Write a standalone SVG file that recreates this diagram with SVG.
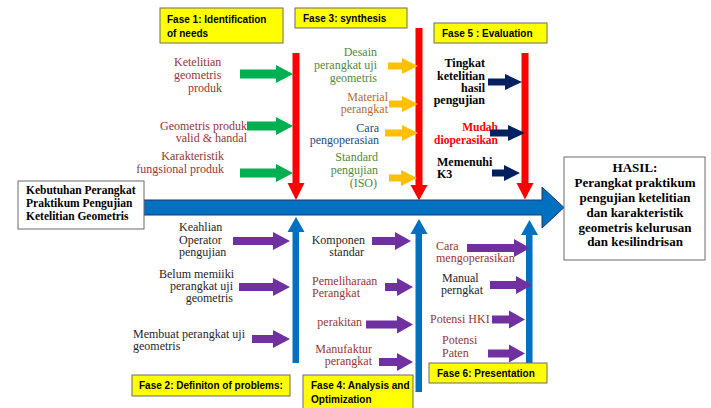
<svg xmlns="http://www.w3.org/2000/svg" width="711" height="408" viewBox="0 0 711 408">
<style>
.fase{fill:#FFFF00;stroke:#6b6b6b;stroke-width:1}
.ft{font-family:"Liberation Sans",Arial,sans-serif;font-weight:bold;font-size:10px;fill:#000}
.box{fill:#fff;stroke:#6b6b6b;stroke-width:1}
.sb{font-family:"Liberation Serif","Times New Roman",serif;font-weight:bold;fill:#000}
.s{font-family:"Liberation Serif","Times New Roman",serif;font-size:12px}
.br{fill:#953735}
.gr{fill:#4F8B3B}
.or{fill:#B56C35}
.bl{fill:#244A84}
.dk{fill:#262626}
.green{fill:#00B050}
.yel{fill:#FFC000}
.navy{fill:#002060}
.pur{fill:#7030A0}
.red{fill:#FF0000}
.blue{fill:#0070C0}
.spine{fill:#0070C0;stroke:#1F3864;stroke-width:1}
</style>

<g id="connectors">
  <polygon id="spine" class="spine" points="120,200 542,200 542,187 564,207.5 542,228 542,215 120,215"/>
  <!-- red down bones -->
  <polygon class="red" points="292.5,53 299.5,53 299.5,183 304.5,183 296,200 287.5,183 292.5,183"/>
  <polygon class="red" points="415.5,28 422.5,28 422.5,185 427.5,185 419,200.5 410.5,185 415.5,185"/>
  <polygon class="red" points="521.5,53 528.5,53 528.5,183 533.5,183 525,199.5 516.5,183 521.5,183"/>
  <!-- blue up bones -->
  <polygon class="blue" points="292.5,363 299,363 299,232 304.5,232 296,217 287.5,232 292.5,232"/>
  <polygon class="blue" points="415.5,392 422,392 422,234 427.5,234 419,219 410.5,234 415.5,234"/>
  <polygon class="blue" points="526,363 532.5,363 532.5,235 538,235 529.5,220 521,235 526,235"/>
  <!-- green arrows -->
  <polygon class="green" points="240,69.5 276,69.5 276,65 293,74 276,83 276,78.5 240,78.5"/>
  <polygon class="green" points="247,121.5 276,121.5 276,117 293,126 276,135 276,130.5 247,130.5"/>
  <polygon class="green" points="240,168.5 276,168.5 276,164 293,173 276,182 276,177.5 240,177.5"/>
  <!-- yellow arrows -->
  <polygon class="yel" points="388,62.5 402,62.5 402,58 418,66 402,74 402,69.5 388,69.5"/>
  <polygon class="yel" points="389,100.5 402,100.5 402,96 418,104 402,112 402,107.5 389,107.5"/>
  <polygon class="yel" points="385,129.5 402,129.5 402,125 418,133 402,141 402,136.5 385,136.5"/>
  <polygon class="yel" points="389,174.5 401,174.5 401,170 417,178 401,186 401,181.5 389,181.5"/>
  <!-- purple phase 2 -->
  <polygon class="pur" points="233,237 273,237 273,232 290,241 273,250 273,245 233,245"/>
  <polygon class="pur" points="239,283 273,283 273,278 290,287 273,296 273,291 239,291"/>
  <polygon class="pur" points="252,335 273,335 273,330 290,339 273,348 273,343 252,343"/>
  <!-- purple phase 4 -->
  <polygon class="pur" points="372,237 395,237 395,232 411,241 395,250 395,245 372,245"/>
  <polygon class="pur" points="385,283 397,283 397,278 413,287 397,296 397,291 385,291"/>
  <polygon class="pur" points="366,320.5 397,320.5 397,315.5 413,324.5 397,333.5 397,328.5 366,328.5"/>
  <polygon class="pur" points="379,358 397,358 397,353 413,362 397,371 397,366 379,366"/>
</g>

<g id="fase1">
  <rect class="fase" x="160" y="8" width="123" height="35"/>
  <text class="ft" x="167" y="23">Fase 1: Identification</text>
  <text class="ft" x="167" y="37">of  needs</text>
</g>
<g id="fase3">
  <rect class="fase" x="295" y="8" width="112" height="20"/>
  <text class="ft" x="303" y="22">Fase 3: synthesis</text>
</g>
<g id="fase5">
  <rect class="fase" x="434" y="23" width="113" height="20"/>
  <text class="ft" x="442" y="37">Fase 5 : Evaluation</text>
</g>
<g id="fase2">
  <rect class="fase" x="132" y="375" width="158" height="21"/>
  <text class="ft" x="139" y="389">Fase 2: Definiton of problems:</text>
</g>
<g id="fase4">
  <rect class="fase" x="303" y="375" width="110" height="40"/>
  <text class="ft" x="311" y="389">Fase 4: Analysis and</text>
  <text class="ft" x="311" y="403">Optimization</text>
</g>
<g id="fase6">
  <rect class="fase" x="429" y="363" width="118" height="20"/>
  <text class="ft" x="437" y="377">Fase 6: Presentation</text>
</g>

<g id="start">
  <rect class="box" x="18" y="181" width="126" height="48"/>
  <text class="sb" font-size="11.5" x="26" y="194">Kebutuhan Perangkat</text>
  <text class="sb" font-size="11.5" x="26" y="207">Praktikum Pengujian</text>
  <text class="sb" font-size="11.5" x="26" y="220">Ketelitian Geometris</text>
</g>

<g id="hasil">
  <rect class="box" x="564" y="157" width="141" height="103"/>
  <g class="sb" font-size="13" text-anchor="middle">
    <text x="635" y="172">HASIL:</text>
    <text x="635" y="187">Perangkat praktikum</text>
    <text x="635" y="202">pengujian ketelitian</text>
    <text x="635" y="216.5">dan karakteristik</text>
    <text x="635" y="231.5">geometris kelurusan</text>
    <text x="635" y="246">dan kesilindrisan</text>
  </g>
</g>

<g id="p1-labels" class="s br">
  <text x="174" y="66">Ketelitian</text>
  <text x="174" y="79">geometris</text>
  <text x="222" y="92" text-anchor="end">produk</text>
  <text x="247" y="130" text-anchor="end">Geometris produk</text>
  <text x="247" y="142" text-anchor="end">valid  &amp; handal</text>
  <text x="224" y="160" text-anchor="end">Karakteristik</text>
  <text x="224" y="173" text-anchor="end">fungsional produk</text>
</g>

<g id="p3-labels" class="s" text-anchor="end">
  <text class="gr" x="377" y="56">Desain</text>
  <text class="gr" x="377" y="69">perangkat uji</text>
  <text class="gr" x="377" y="82">geometris</text>
  <text class="or" x="388" y="101">Material</text>
  <text class="or" x="388" y="113">perangkat</text>
  <text class="bl" x="379" y="132">Cara</text>
  <text class="bl" x="379" y="144">pengoperasian</text>
  <text class="gr" x="378" y="161">Standard</text>
  <text class="gr" x="378" y="174">pengujian</text>
  <text class="gr" x="377" y="187">(ISO)</text>
</g>

<g id="p5-labels" class="sb" font-size="12">
  <g text-anchor="end">
    <text x="485" y="67">Tingkat</text>
    <text x="485" y="79.5">ketelitian</text>
    <text x="485" y="92">hasil</text>
    <text x="485" y="104">pengujian</text>
    <text x="498" y="131" fill="#FF0000" font-size="11.5">Mudah</text>
    <text x="498" y="144" fill="#FF0000" font-size="11.5">dioperasikan</text>
  </g>
  <text x="437" y="166">Memenuhi</text>
  <text x="437" y="178">K3</text>
</g>

<g id="p2-labels" class="s dk">
  <text x="179" y="231">Keahlian</text>
  <text x="179" y="243.5">Operator</text>
  <text x="179" y="256">pengujian</text>
  <text x="234" y="277.5" text-anchor="end">Belum memiiki</text>
  <text x="233" y="289.5" text-anchor="end">perangkat  uji</text>
  <text x="233" y="302" text-anchor="end">geometris</text>
  <text x="133" y="338">Membuat perangkat uji</text>
  <text x="133" y="350">geometris</text>
</g>

<g id="p4-labels" class="s">
  <text class="dk" x="365" y="243.5" text-anchor="end">Komponen</text>
  <text class="dk" x="364" y="255.5" text-anchor="end">standar</text>
  <text class="br" x="312" y="284.5">Pemeliharaan</text>
  <text class="br" x="312" y="297">Perangkat</text>
  <text class="br" x="362" y="326" text-anchor="end">perakitan</text>
  <text class="br" x="372" y="352.5" text-anchor="end">Manufaktur</text>
  <text class="br" x="372" y="364.5" text-anchor="end">perangkat</text>
</g>

<g id="p6-labels" class="s">
  <text class="br" x="436" y="249.5">Cara</text>
  <text class="br" x="436" y="262">mengoperasikan</text>
  <text class="dk" x="442" y="282">Manual</text>
  <text class="dk" x="441" y="293.5">perngkat</text>
  <text class="br" x="430" y="323">Potensi HKI</text>
  <text class="br" x="442" y="344">Potensi</text>
  <text class="br" x="442" y="357">Paten</text>
</g>

<g id="connectors-top">
  <!-- navy arrows -->
  <polygon class="navy" points="488,78.5 505,78.5 505,74 522,82 505,90 505,85.5 488,85.5"/>
  <polygon class="navy" points="490,129.5 508,129.5 508,125 525,133 508,141 508,136.5 490,136.5"/>
  <polygon class="navy" points="492,169.5 504,169.5 504,165 520,173 504,181 504,176.5 492,176.5"/>
  <!-- purple phase 6 -->
  <polygon class="pur" points="467,244 514,244 514,239 530,248 514,257 514,252 467,252"/>
  <polygon class="pur" points="490,281 516,281 516,276 532,285 516,294 516,289 490,289"/>
  <polygon class="pur" points="492,315.5 509,315.5 509,310.5 525,319.5 509,328.5 509,323.5 492,323.5"/>
  <polygon class="pur" points="488,349.5 509,349.5 509,344.5 525,353.5 509,362.5 509,357.5 488,357.5"/>
</g>
</svg>
